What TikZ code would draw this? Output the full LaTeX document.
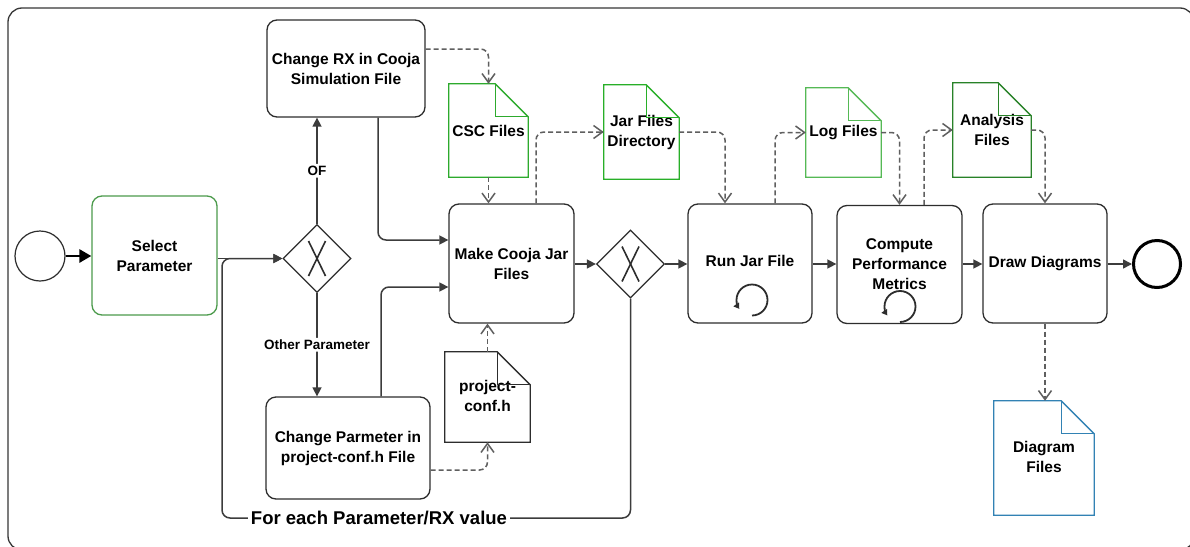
\documentclass[tikz,border=0pt]{standalone}
\usepackage{fontspec}
\setmainfont{Liberation Sans}
\usetikzlibrary{arrows.meta,shapes.geometric,calc}
\definecolor{boxc}{RGB}{45,45,45}
\definecolor{linec}{RGB}{60,60,60}
\definecolor{dashc}{RGB}{95,95,95}
\definecolor{framec}{RGB}{55,55,55}
\definecolor{selgreen}{RGB}{76,155,76}
\definecolor{cscgreen}{RGB}{45,170,45}
\definecolor{jargreen}{RGB}{40,175,40}
\definecolor{loggreen}{RGB}{85,185,85}
\definecolor{anagreen}{RGB}{40,130,40}
\definecolor{diablue}{RGB}{50,130,180}
\newcommand\dmainfont{\bfseries\fontsize{15.5}{20}\selectfont}
\newcommand\dsmallfont{\bfseries\fontsize{13.5}{16}\selectfont}
\newcommand\dloopfont{\bfseries\fontsize{18.5}{22}\selectfont}
\newcommand\drawdoc[2]{%
  \draw[draw=#2, line width=1.3pt, line join=miter]
    (#1.north west) -- ($(#1.north east)+(-33,0)$) -- ($(#1.north east)+(0,33)$)
    -- (#1.south east) -- (#1.south west) -- cycle;
  \draw[draw=#2, line width=1.3pt, line join=miter]
    ($(#1.north east)+(-33,0)$) -- ($(#1.north east)+(-33,33)$) -- ($(#1.north east)+(0,33)$);
}
\begin{document}
\begin{tikzpicture}[x=1pt,y=-1pt,
  task/.style={draw=boxc, fill=white, line width=1.3pt, rounded corners=10pt, inner sep=2pt, align=center, font=\dmainfont},
  doc/.style={inner sep=0pt, align=center, font=\dmainfont},
  gate/.style={diamond, aspect=1, draw=boxc, fill=white, line width=1.3pt, minimum width=68pt, minimum height=68pt, inner sep=0pt},
  flow/.style={draw=linec, line width=1.5pt, -{Triangle[length=9pt,width=9pt]}, rounded corners=8pt},
  assoc/.style={draw=dashc, line width=1.5pt, dash pattern=on 5pt off 3pt, -{Straight Barb[length=9pt,width=13pt]}, rounded corners=8pt},
  lbl/.style={fill=white, inner sep=2pt, font=\dsmallfont},
  icon/.style={draw=boxc, line width=1.8pt, -{Triangle[length=5.5pt,width=6.5pt]}},
  xmark/.style={draw=boxc, line width=1.6pt}
]
\useasboundingbox (0,0) rectangle (1190,546);
\fill[white] (0,0) rectangle (1190,546);
\draw[draw=framec, line width=1.3pt, rounded corners=14pt] (8,8) rectangle (1194,550);

% events
\node[circle, draw=boxc, line width=1.2pt, minimum size=50pt, inner sep=0pt] (start) at (40,256) {};
\node[circle, draw=black, line width=3pt, minimum size=47pt, inner sep=0pt] (end) at (1157,264) {};

% tasks
\node[task, draw=selgreen, minimum width=125pt, minimum height=119pt] (sel) at (154.5,255.5) {Select\\Parameter};
\node[task, minimum width=158pt, minimum height=97pt] (crx) at (346,68.5) {Change RX in Cooja\\Simulation File};
\node[task, minimum width=164pt, minimum height=102pt] (cpar) at (348,448) {Change Parmeter in\\project-conf.h File};
\node[task, minimum width=125pt, minimum height=119pt] (mcj) at (511.5,263.5) {Make Cooja Jar\\Files};
\node[task, minimum width=124pt, minimum height=119pt] (rjf) at (750,263.5) {\raisebox{5pt}{Run Jar File}};
\node[task, minimum width=125pt, minimum height=118pt] (cpm) at (899.5,264.5) {Compute\\Performance\\Metrics};
\node[task, minimum width=124pt, minimum height=119pt] (drw) at (1045,263.5) {\raisebox{3pt}{Draw Diagrams}};

% gateways
\node[gate] (gw1) at (317,258.5) {};
\node[gate] (gw2) at (630.5,264) {};
\draw[xmark] ($(gw1.center)+(-8.5,-17.5)$) -- ($(gw1.center)+(8.5,17.5)$);
\draw[xmark] ($(gw1.center)+(8.5,-17.5)$) -- ($(gw1.center)+(-8.5,17.5)$);
\draw[xmark] ($(gw2.center)+(-8.5,-17.5)$) -- ($(gw2.center)+(8.5,17.5)$);
\draw[xmark] ($(gw2.center)+(8.5,-17.5)$) -- ($(gw2.center)+(-8.5,17.5)$);

% loop icons
\draw[icon] ($(rjf.center)+(2,52)$) arc[start angle=90, end angle=-215, radius=15.5];
\draw[icon] ($(cpm.center)+(0.5,57.5)$) arc[start angle=90, end angle=-215, radius=15.5];

% data objects
\node[doc, minimum width=79pt, minimum height=93pt] (csc) at (488.5,130.5) {CSC Files};
\node[doc, minimum width=75pt, minimum height=94pt] (jar) at (641.5,132) {Jar Files\\Directory};
\node[doc, minimum width=75pt, minimum height=89pt] (log) at (843.5,132.5) {Log Files};
\node[doc, minimum width=78pt, minimum height=94pt] (ana) at (992,130) {Analysis\\Files};
\node[doc, minimum width=85pt, minimum height=90pt] (pcf) at (487.5,397) {\raisebox{4pt}{\begin{tabular}{@{}c@{}}project-\\conf.h\end{tabular}}};
\node[doc, minimum width=100pt, minimum height=114pt] (dia) at (1044,458) {\raisebox{5pt}{\begin{tabular}{@{}c@{}}Diagram\\Files\end{tabular}}};
\drawdoc{csc}{cscgreen}
\drawdoc{jar}{jargreen}
\drawdoc{log}{loggreen}
\drawdoc{ana}{anagreen}
\drawdoc{pcf}{boxc}
\drawdoc{dia}{diablue}

% sequence flows
\draw[draw=black, line width=2.8pt, -{Triangle[length=12pt,width=13pt]}] (start.east) -- (start.east -| sel.west);
\coordinate (lc) at (222,518);
\draw[flow] (gw2.south) |- (lc) |- (gw1.west);
\draw[flow] (sel.east |- gw1.west) -- (gw1.west);
\draw[flow] (gw1.north) -- node[lbl] {OF} (gw1.north |- crx.south);
\draw[flow] (gw1.south) -- node[lbl] {Other Parameter} (gw1.south |- cpar.north);
\draw[flow] ([xshift=32pt]crx.south) |- ([yshift=23.5pt]mcj.west);
\draw[flow] ([xshift=33pt]cpar.north) |- ([yshift=-23.5pt]mcj.west);
\draw[flow] (mcj.east |- gw2.west) -- (gw2.west);
\draw[flow] (gw2.east) -- (gw2.east -| rjf.west);
\draw[flow] (rjf.east |- gw2.east) -- (cpm.west |- gw2.east);
\draw[flow] (cpm.east |- gw2.east) -- (drw.west |- gw2.east);
\draw[flow] (drw.east |- end.west) -- (end.west);
\node[fill=white, inner sep=3pt, font=\dloopfont] (loopl) at (379,518) {For each Parameter/RX value};

% associations
\draw[assoc] ([yshift=19.5pt]crx.east) -| (csc.north);
\draw[assoc] (csc.south) -- (csc.south |- mcj.north);
\draw[assoc] ([yshift=-22pt]cpar.east) -| (pcf.south);
\draw[assoc] (pcf.north) -- (pcf.north |- mcj.south);
\draw[assoc] ([xshift=24.5pt]mcj.north) |- (jar.west);
\draw[assoc] (jar.east) -| ([xshift=-25pt]rjf.north);
\draw[assoc] ([xshift=25pt]rjf.north) |- (log.west);
\draw[assoc] (log.east) -| (cpm.north);
\draw[assoc] ([xshift=24.5pt]cpm.north) |- (ana.west);
\draw[assoc] (ana.east) -| (drw.north);
\draw[assoc] (drw.south) -- (drw.south |- dia.north);
\end{tikzpicture}
\end{document}
